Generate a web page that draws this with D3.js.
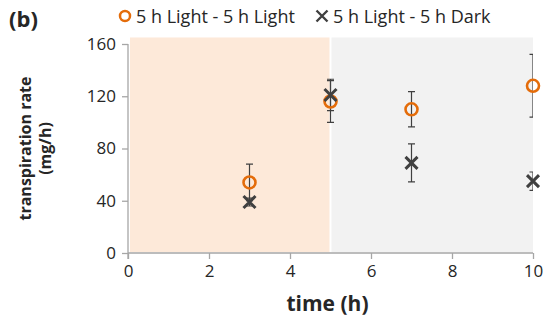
<!DOCTYPE html>
<html lang="en">
<head>
<meta charset="UTF-8">
<script src="https://d3js.org/d3.v7.min.js"></script>
<style>
    body { margin: 0; background: #fff; }
    text { font-family: 'Open Sans', sans-serif; fill: #262626; }
    .tick text { font-size: 17px; }
    .title { font-weight: bold; }
</style>
</head>
<body>
<svg width="550" height="324"></svg>
<script>
    // values
    const times = [3, 5, 7, 10];
    const lightMean = [54, 116, 110, 128];
    const lightErr = [14, 16, 13.5, 24];
    const darkMean = [39, 121, 69, 55];
    const darkErr = [3, 12, 14.5, 7];
    const xTicks = [0, 2, 4, 6, 8, 10];
    const yTicks = [0, 40, 80, 120, 160];
    const seriesNames = ["5 h Light - 5 h Light", "5 h Light - 5 h Dark"];

    const orange = "#e46c0a", dark = "#404040";
    const svg = d3.select("svg");
    const x = d3.scaleLinear().domain([0, 10]).range([128, 533]);
    const y = d3.scaleLinear().domain([0, 160]).range([253, 44]);

    // light / dark background periods
    svg.append("rect").attr("x", x(0) + 2).attr("y", y(165))
        .attr("width", x(5) - x(0) - 3).attr("height", y(0) - y(165) - 1)
        .attr("fill", "#fde9d9");
    svg.append("rect").attr("x", x(5) + 1).attr("y", y(165))
        .attr("width", x(10) - x(5) - 1).attr("height", y(0) - y(165) - 1)
        .attr("fill", "#f2f2f2");

    // axes
    const xG = svg.append("g").attr("transform", `translate(0,${y(0)})`)
        .call(d3.axisBottom(x).tickValues(xTicks).tickSize(6).tickPadding(6));
    const yG = svg.append("g").attr("transform", `translate(${x(0)},0)`)
        .call(d3.axisLeft(y).tickValues(yTicks).tickSize(6).tickPadding(6));
    [xG, yG].forEach(g => {
        g.select(".domain").attr("stroke", "#a6a6a6").attr("stroke-width", 1.3);
        g.selectAll(".tick line").attr("stroke", "#a6a6a6").attr("stroke-width", 1.3);
    });
    xG.select(".domain").attr("d", `M${x(0)},0H${x(10)}`);
    yG.select(".domain").attr("d", `M0,${y(0) + 6}V${y(160)}`);

    // error bars, clipped at the plot edge
    svg.append("clipPath").attr("id", "plot").append("rect")
        .attr("x", x(0)).attr("y", 0).attr("width", x(10) - x(0)).attr("height", y(0));
    const errG = svg.append("g").attr("clip-path", "url(#plot)")
        .attr("stroke", dark).attr("stroke-width", 1.2).attr("fill", "none");
    function errBars(means, errs) {
        times.forEach((t, i) => {
            const cx = x(t), lo = y(means[i] - errs[i]), hi = y(means[i] + errs[i]);
            errG.append("path")
                .attr("d", `M${cx},${lo}V${hi}M${cx - 3.5},${lo}H${cx + 3.5}M${cx - 3.5},${hi}H${cx + 3.5}`);
        });
    }
    errBars(lightMean, lightErr);
    errBars(darkMean, darkErr);

    // markers
    svg.selectAll("circle.light").data(times).join("circle").attr("class", "light")
        .attr("cx", d => x(d)).attr("cy", (d, i) => y(lightMean[i])).attr("r", 6)
        .attr("fill", "none").attr("stroke", orange).attr("stroke-width", 2.6);
    const cross = s => `M${-s},${-s}L${s},${s}M${-s},${s}L${s},${-s}`;
    svg.selectAll("path.dark").data(times).join("path").attr("class", "dark")
        .attr("transform", (d, i) => `translate(${x(d)},${y(darkMean[i])})`)
        .attr("d", cross(6)).attr("stroke", dark).attr("stroke-width", 3).attr("fill", "none");

    // legend
    const leg = svg.append("g");
    leg.append("circle").attr("cx", 125).attr("cy", 16).attr("r", 5)
        .attr("fill", "none").attr("stroke", orange).attr("stroke-width", 2.5);
    leg.append("text").attr("x", 136).attr("y", 23).attr("font-size", 18).text(seriesNames[0]);
    leg.append("path").attr("transform", "translate(322,16)").attr("d", cross(5.5))
        .attr("stroke", dark).attr("stroke-width", 2.4);
    leg.append("text").attr("x", 333).attr("y", 23).attr("font-size", 18).text(seriesNames[1]);

    // titles
    svg.append("text").attr("class", "title").attr("x", 9).attr("y", 27)
        .attr("font-size", 22).text("(b)");
    svg.append("text").attr("class", "title").attr("font-size", 16)
        .attr("text-anchor", "middle")
        .attr("transform", `translate(31,${(y(0) + y(160)) / 2}) rotate(-90)`)
        .text("transpiration rate");
    svg.append("text").attr("class", "title").attr("font-size", 16)
        .attr("text-anchor", "middle")
        .attr("transform", `translate(51,${(y(0) + y(160)) / 2}) rotate(-90)`)
        .text("(mg/h)");
    svg.append("text").attr("class", "title").attr("font-size", 21)
        .attr("text-anchor", "middle").attr("x", (x(0) + x(10)) / 2 - 3).attr("y", 311)
        .text("time (h)");
</script>
</body>
</html>
